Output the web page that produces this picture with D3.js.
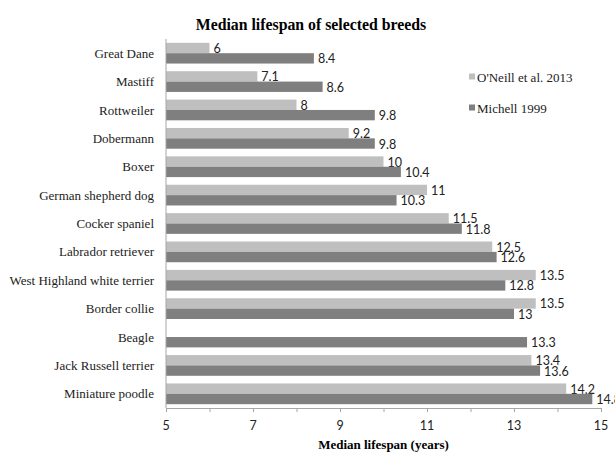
<!DOCTYPE html>
<html lang="en">
<head>
    <meta charset="UTF-8">
    <title>Median lifespan of selected breeds</title>
    <script src="https://d3js.org/d3.v7.min.js"></script>
    <style>
        body, html {
            margin: 0;
            padding: 0;
            overflow: hidden;
            background: #fff;
        }
        svg { display: block; }
    </style>
</head>
<body>
    <svg width="615" height="452"></svg>

    <script>
        const breeds = ["Great Dane", "Mastiff", "Rottweiler", "Dobermann", "Boxer",
            "German shepherd dog", "Cocker spaniel", "Labrador retriever",
            "West Highland white terrier", "Border collie", "Beagle",
            "Jack Russell terrier", "Miniature poodle"];
        const oneill2013 = [6, 7.1, 8, 9.2, 10, 11, 11.5, 12.5, 13.5, 13.5, null, 13.4, 14.2];
        const michell1999 = [8.4, 8.6, 9.8, 9.8, 10.4, 10.3, 11.8, 12.6, 12.8, 13, 13.3, 13.6, 14.8];
        const seriesNames = ["O'Neill et al. 2013", "Michell 1999"];
        const xTicks = [5, 7, 9, 11, 13, 15];

        const serif = "'Liberation Serif', 'Times New Roman', serif";
        const sans = "Lato, 'Open Sans', sans-serif";

        const svg = d3.select("svg");
        const colors = ["#bfbfbf", "#7f7f80"];

        const x = d3.scaleLinear().domain([5, 15]).range([166, 601]);
        const y = d3.scaleBand().domain(breeds).range([39, 408]).paddingInner(0.27).paddingOuter(0.135);
        const ySub = d3.scaleBand().domain([0, 1]).range([0, y.bandwidth()]);

        const series = [oneill2013, michell1999];

        // bars
        series.forEach((vals, s) => {
            const g = svg.append("g");
            breeds.forEach((b, i) => {
                if (vals[i] == null) return;
                g.append("rect")
                    .attr("x", x(5))
                    .attr("y", y(b) + ySub(s))
                    .attr("width", x(vals[i]) - x(5))
                    .attr("height", ySub.bandwidth())
                    .attr("fill", colors[s]);
                g.append("text")
                    .attr("x", x(vals[i]) + 4)
                    .attr("y", y(b) + ySub(s) + ySub.bandwidth() / 2 + 1)
                    .attr("dy", "0.32em")
                    .style("font-family", sans)
                    .style("font-size", "12.5px")
                    .attr("fill", "#222")
                    .text(vals[i]);
            });
        });

        // category labels
        svg.append("g").selectAll("text")
            .data(breeds)
            .join("text")
            .attr("x", 154)
            .attr("y", d => y(d) + y.bandwidth() / 2)
            .attr("dy", "0.35em")
            .attr("text-anchor", "end")
            .style("font-family", serif)
            .style("font-size", "13px")
            .attr("fill", "#222")
            .text(d => d);

        // vertical axis line
        svg.append("line")
            .attr("x1", x(5)).attr("x2", x(5))
            .attr("y1", 39).attr("y2", 408)
            .attr("stroke", "#a6a6a6");

        // x axis
        const xAxis = svg.append("g")
            .attr("transform", "translate(0,408)")
            .call(d3.axisBottom(x).ticks(10).tickSize(4).tickFormat(""));
        xAxis.select(".domain").attr("stroke", "#a6a6a6");
        xAxis.selectAll(".tick line").attr("stroke", "#a6a6a6");

        svg.append("g").selectAll("text")
            .data(xTicks)
            .join("text")
            .attr("x", d => x(d))
            .attr("y", 426)
            .attr("dy", "0.35em")
            .attr("text-anchor", "middle")
            .style("font-family", sans)
            .style("font-size", "12.5px")
            .attr("fill", "#222")
            .text(d => d);

        svg.append("text")
            .attr("x", x(10))
            .attr("y", 444)
            .attr("dy", "0.35em")
            .attr("text-anchor", "middle")
            .style("font-family", serif)
            .style("font-weight", "bold")
            .style("font-size", "13px")
            .text("Median lifespan (years)");

        // title
        svg.append("text")
            .attr("x", 311)
            .attr("y", 24)
            .attr("dy", "0.35em")
            .attr("text-anchor", "middle")
            .style("font-family", serif)
            .style("font-weight", "bold")
            .style("font-size", "15.8px")
            .text("Median lifespan of selected breeds");

        // legend
        const legend = svg.append("g");
        seriesNames.forEach((n, i) => {
            const ly = 77 + i * 31;
            legend.append("rect")
                .attr("x", 469).attr("y", ly - 3.5)
                .attr("width", 6).attr("height", 6)
                .attr("fill", colors[i]);
            legend.append("text")
                .attr("x", 477).attr("y", ly)
                .attr("dy", "0.35em")
                .style("font-family", serif)
                .style("font-size", "13px")
                .attr("fill", "#222")
                .text(n);
        });
    </script>
</body>
</html>
